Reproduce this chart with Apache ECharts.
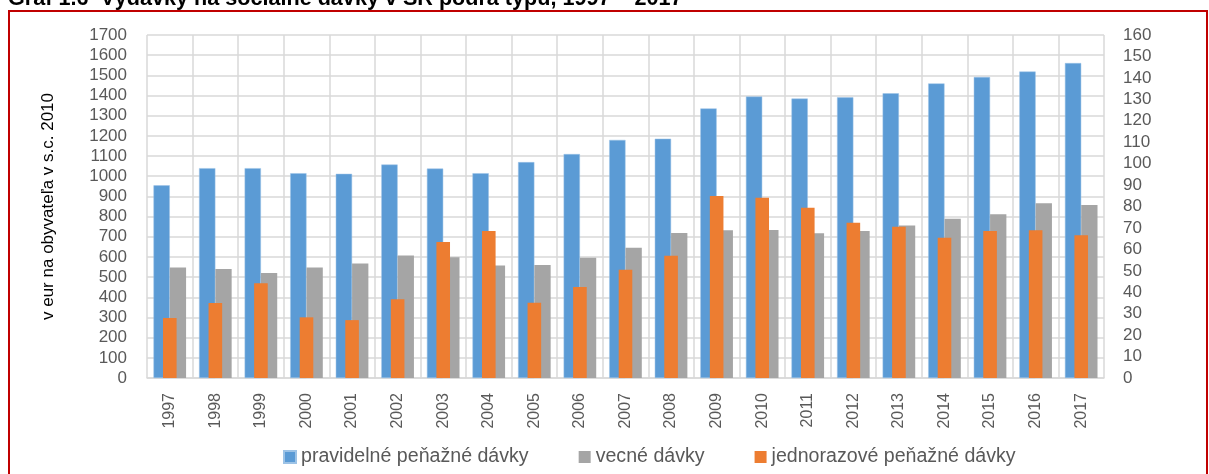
<!DOCTYPE html>
<html>
<head>
<meta charset="utf-8">
<script src="https://cdn.jsdelivr.net/npm/echarts@6/dist/echarts.min.js"></script>
<style>
html,body{margin:0;padding:0;background:#fff;}
#c{width:1209px;height:474px;}
</style>
</head>
<body>
<div id="c"></div>
<script>
const years = ['1997','1998','1999','2000','2001','2002','2003','2004','2005','2006','2007','2008','2009','2010','2011','2012','2013','2014','2015','2016','2017'];
const pravidelne = [955,1040,1040,1015,1012,1058,1038,1015,1070,1110,1180,1186,1336,1395,1385,1391,1411,1460,1492,1519,1561];
const vecne = [548,540,520,548,567,607,598,558,560,596,646,719,732,734,718,729,756,789,811,866,857];
const jednorazove = [28.0,35.0,44.2,28.3,27.0,36.7,63.4,68.6,35.1,42.4,50.5,57.0,84.9,84.1,79.4,72.4,70.6,65.4,68.6,68.9,66.6];
const seriesNames = ['pravidelné peňažné dávky','vecné dávky','jednorazové peňažné dávky'];
const titleText = 'Graf 1.6  Výdavky na sociálne dávky v SR podľa typu, 1997 – 2017';
const yAxisName = 'v eur na obyvateľa v s.c. 2010';

const FONT = '"Liberation Sans", Arial, sans-serif';
const chart = echarts.init(document.getElementById('c'), null, {renderer:'canvas'});
const gridColor = '#D9D9D9';
const textColor = '#595959';

chart.setOption({
  animation: false,
  textStyle: {fontFamily: FONT},
  graphic: [
    {type:'text', left: 8, top: -12, style:{text: titleText, font: 'bold 21.6px ' + FONT, fill:'#000'}},
    {type:'rect', shape:{x:9, y:11, width:1198, height:500}, style:{fill:'none', stroke:'#C00000', lineWidth:2}, silent:true}
  ],
  legend: {
    data: seriesNames,
    top: 447,
    left: 283,
    padding: 0,
    itemWidth: 12, itemHeight: 12, itemGap: 50,
    icon: 'rect',
    textStyle: {fontSize: 19.6, color: textColor, fontFamily: FONT}
  },
  grid: {left: 147, right: 105, top: 35, bottom: 96, containLabel: false},
  xAxis: [
    {
      type:'category', data: years, boundaryGap: true,
      axisLine:{show:true, lineStyle:{color: gridColor, width: 1.5}},
      axisTick:{show:false},
      axisLabel:{rotate:90, fontSize:16, color:textColor, margin:15, fontFamily:FONT},
      splitLine:{show:true, lineStyle:{color:gridColor, width:1.5}}
    },
    {
      type:'category', data: years, show:false, boundaryGap:true, position:'bottom'
    }
  ],
  yAxis: [
    {
      type:'value', min:0, max:1700, interval:100,
      name: yAxisName, nameLocation:'middle', nameGap: 90, nameRotate: 90,
      nameTextStyle:{fontSize:17, color:'#000', fontFamily:FONT},
      axisLine:{show:false}, axisTick:{show:false},
      axisLabel:{fontSize:17, color:textColor, margin:20, fontFamily:FONT, formatter: v => String(v)},
      splitLine:{show:true, lineStyle:{color:gridColor, width:1.5}}
    },
    {
      type:'value', min:0, max:160, interval:10, position:'right',
      axisLine:{show:false}, axisTick:{show:false},
      axisLabel:{fontSize:17, color:textColor, margin:19, fontFamily:FONT, formatter: v => String(v)},
      splitLine:{show:false}
    }
  ],
  series: [
    {name: seriesNames[0], type:'bar', xAxisIndex:0, yAxisIndex:0, data: pravidelne,
     barWidth: 16.3, barGap: '0%', itemStyle:{color:'#5B9BD5', borderColor:'#9DC3E6', borderWidth:0.5}},
    {name: seriesNames[1], type:'bar', xAxisIndex:0, yAxisIndex:0, data: vecne,
     barWidth: 16.3, barGap: '0%', itemStyle:{color:'#A5A5A5'}},
    {name: seriesNames[2], type:'bar', xAxisIndex:1, yAxisIndex:1, data: jednorazove,
     barWidth: 13.6, z: 3, itemStyle:{color:'#ED7D31'}}
  ]
});
</script>
</body>
</html>
